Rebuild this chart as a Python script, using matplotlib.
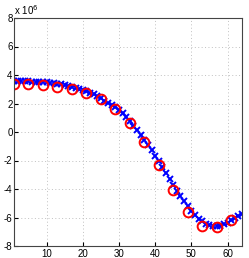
import numpy as np
import matplotlib
matplotlib.use('Agg')
import matplotlib.pyplot as plt

# sampled (circles) every 4th index, values in units of 1e6
x_circ = [1, 5, 9, 13, 17, 21, 25, 29, 33, 37, 41, 45, 49, 53, 57, 61]
y_circ = [3.37, 3.35, 3.30, 3.18, 3.00, 2.74, 2.29, 1.60, 0.63, -0.70,
          -2.30, -4.10, -5.63, -6.57, -6.69, -6.18]

# full series (crosses), one per index 1..64
x_full = list(range(1, 65))
y_full = [3.55, 3.55, 3.55, 3.55, 3.55, 3.54, 3.53, 3.52, 3.50, 3.48,
          3.45, 3.42, 3.39, 3.35, 3.30, 3.25, 3.19, 3.12, 3.05, 2.96,
          2.87, 2.76, 2.64, 2.51, 2.37, 2.21, 2.04, 1.92, 1.78, 1.55,
          1.30, 1.03, 0.75, 0.45, 0.13, -0.20, -0.55, -0.90, -1.27, -1.66,
          -2.06, -2.46, -2.88, -3.30, -3.71, -4.11, -4.50, -4.87, -5.22, -5.54,
          -5.83, -6.08, -6.28, -6.44, -6.55, -6.61, -6.62, -6.58, -6.49, -6.36,
          -6.20, -6.03, -5.87, -5.72]

plt.rcParams['font.family'] = ['Liberation Sans', 'DejaVu Sans']

fig = plt.figure(figsize=(2.49, 2.58), dpi=100)
ax = fig.add_axes([14 / 249, 12 / 258, 228 / 249, 228 / 258])

scale = 1e6
ax.plot(x_full, np.array(y_full) * scale, 'x', color='#0000ff',
        markersize=5, markeredgewidth=1.4)
ax.plot(x_circ, np.array(y_circ) * scale, 'o', color='#ff0000',
        markerfacecolor='none', markersize=7, markeredgewidth=1.4)

ax.set_xlim(1, 64)
ax.set_ylim(-8 * scale, 8 * scale)
ax.set_xticks([10, 20, 30, 40, 50, 60])
ax.set_yticks(np.arange(-8, 9, 2) * scale)
ax.set_yticklabels([str(v) for v in range(-8, 9, 2)])
ax.grid(True, linestyle=(0, (1, 2.5)), color='#c0c0c0', linewidth=0.7)
ax.tick_params(direction='in', labelsize=7, length=3, pad=2)
ax.tick_params(axis='y', pad=1)
for s in ax.spines.values():
    s.set_color('#444444')
    s.set_linewidth(0.8)
ax.text(0, 1.005, r'x 10$^6$', transform=ax.transAxes, fontsize=7,
        ha='left', va='bottom')

fig.savefig('out.png', dpi=100)
